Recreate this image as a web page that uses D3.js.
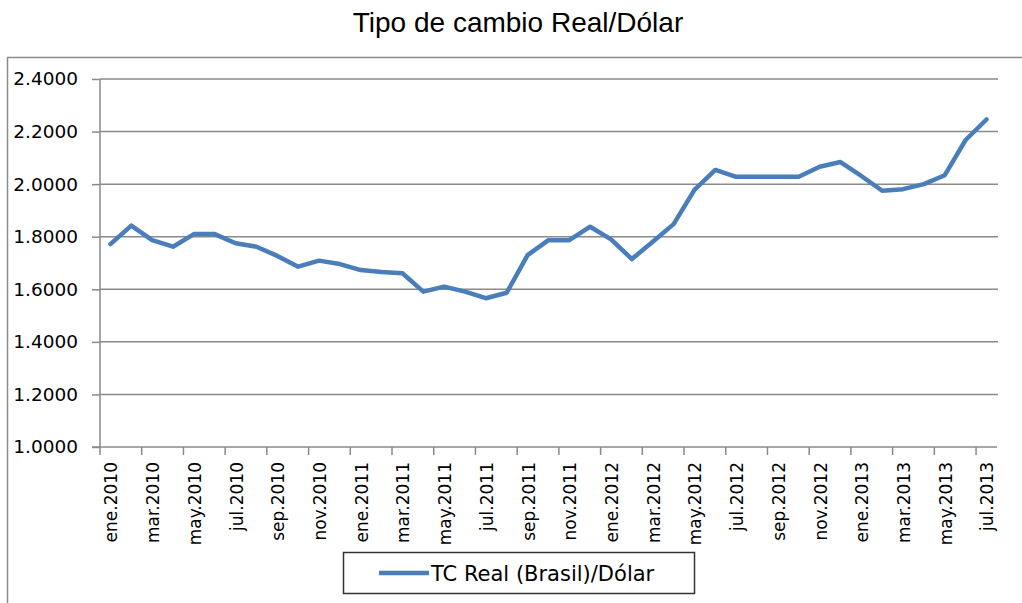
<!DOCTYPE html>
<html>
<head>
<meta charset="utf-8">
<script src="https://cdn.jsdelivr.net/npm/d3@7"></script>
<style>
  body { margin: 0; background: #fff; }
  svg { display: block; }
</style>
</head>
<body>
<div id="chart"></div>
<script>
// Monthly categories, ene.2010 .. jul.2013
const categories = [
    "ene.2010", "feb.2010", "mar.2010", "abr.2010", "may.2010", "jun.2010",
    "jul.2010", "ago.2010", "sep.2010", "oct.2010", "nov.2010", "dic.2010",
    "ene.2011", "feb.2011", "mar.2011", "abr.2011", "may.2011", "jun.2011",
    "jul.2011", "ago.2011", "sep.2011", "oct.2011", "nov.2011", "dic.2011",
    "ene.2012", "feb.2012", "mar.2012", "abr.2012", "may.2012", "jun.2012",
    "jul.2012", "ago.2012", "sep.2012", "oct.2012", "nov.2012", "dic.2012",
    "ene.2013", "feb.2013", "mar.2013", "abr.2013", "may.2013", "jun.2013",
    "jul.2013"
];

// TC Real (Brasil)/Dólar
const tcValues = [
    1.772, 1.842, 1.787, 1.762, 1.810, 1.810, 1.775, 1.762, 1.727, 1.686, 1.709,
    1.696, 1.673, 1.666, 1.661, 1.591, 1.610, 1.591, 1.566, 1.587, 1.730, 1.787,
    1.787, 1.838, 1.790, 1.715, 1.781, 1.848, 1.978, 2.054, 2.028, 2.028, 2.028,
    2.028, 2.066, 2.084, 2.031, 1.975, 1.981, 2.000, 2.034, 2.168, 2.246
];

const yTicks = [1.0, 1.2, 1.4, 1.6, 1.8, 2.0, 2.2, 2.4];
const seriesName = "TC Real (Brasil)/Dólar";
const chartTitle = "Tipo de cambio Real/Dólar";

const width = 1022, height = 603;
const svg = d3.select("#chart").append("svg").attr("width", width).attr("height", height);

// outer chart frame
svg.append("rect")
    .attr("x", 7.5).attr("y", 57.5)
    .attr("width", 1040).attr("height", 600)
    .attr("fill", "none").attr("stroke", "#8c8c8c").attr("stroke-width", 1.5);

// title
svg.append("text")
    .attr("x", 518).attr("y", 32)
    .attr("text-anchor", "middle")
    .attr("font-family", "Liberation Sans, Arial, sans-serif")
    .attr("font-size", "28px")
    .attr("fill", "#000")
    .text(chartTitle);

const xScale = d3.scaleBand().domain(categories).range([100, 996.9]);
const yScale = d3.scaleLinear().domain([1.0, 2.4]).range([447, 79]);

// gridlines
svg.append("g").selectAll("line")
    .data(yTicks.slice(1)).enter().append("line")
    .attr("x1", 100).attr("x2", 998)
    .attr("y1", d => yScale(d)).attr("y2", d => yScale(d))
    .attr("stroke", "#8a8a8a").attr("stroke-width", 1.5);

// y axis
const yAxis = svg.append("g")
    .attr("transform", "translate(100,0)")
    .call(d3.axisLeft(yScale).tickValues(yTicks).tickSize(8).tickPadding(0).tickFormat(d3.format(".4f")));
yAxis.select(".domain").remove();
yAxis.selectAll(".tick line").attr("stroke", "#8a8a8a").attr("stroke-width", 1.5);
yAxis.selectAll(".tick text")
    .attr("x", -22)
    .attr("font-family", "DejaVu Sans, sans-serif")
    .attr("font-size", "18.5px")
    .attr("fill", "#000");
svg.append("line")
    .attr("x1", 100).attr("x2", 100).attr("y1", 79).attr("y2", 455)
    .attr("stroke", "#8a8a8a").attr("stroke-width", 1.5);

// x axis
svg.append("line")
    .attr("x1", 92).attr("x2", 997).attr("y1", 447).attr("y2", 447)
    .attr("stroke", "#8a8a8a").attr("stroke-width", 1.5);

const tickCats = categories.filter((d, i) => i % 2 === 0);
svg.append("g").selectAll("line")
    .data(tickCats.slice(1)).enter().append("line")
    .attr("x1", d => xScale(d)).attr("x2", d => xScale(d))
    .attr("y1", 447).attr("y2", 455)
    .attr("stroke", "#8a8a8a").attr("stroke-width", 1.5);

svg.append("g").selectAll("text")
    .data(tickCats).enter().append("text")
    .attr("transform", d => `translate(${xScale(d) + xScale.bandwidth() / 2},462) rotate(-90)`)
    .attr("dy", "0.41em")
    .attr("text-anchor", "end")
    .attr("font-family", "DejaVu Sans, sans-serif")
    .attr("font-size", "17px")
    .attr("fill", "#000")
    .text(d => d);

// series line
const line = d3.line()
    .x((d, i) => xScale(categories[i]) + xScale.bandwidth() / 2)
    .y(d => yScale(d));

svg.append("path")
    .datum(tcValues)
    .attr("fill", "none")
    .attr("stroke", "#4a7ebb")
    .attr("stroke-width", 4.5)
    .attr("stroke-linejoin", "round")
    .attr("stroke-linecap", "round")
    .attr("d", line);

// legend
const legend = svg.append("g");
legend.append("rect")
    .attr("x", 343.5).attr("y", 552.5)
    .attr("width", 351).attr("height", 41)
    .attr("fill", "#fff").attr("stroke", "#333").attr("stroke-width", 1.5);
legend.append("line")
    .attr("x1", 379).attr("x2", 429).attr("y1", 573).attr("y2", 573)
    .attr("stroke", "#4a7ebb").attr("stroke-width", 4.5);
legend.append("text")
    .attr("x", 431).attr("y", 573)
    .attr("dy", "0.36em")
    .attr("font-family", "DejaVu Sans, sans-serif")
    .attr("font-size", "21px")
    .attr("fill", "#000")
    .text(seriesName);
</script>
</body>
</html>
